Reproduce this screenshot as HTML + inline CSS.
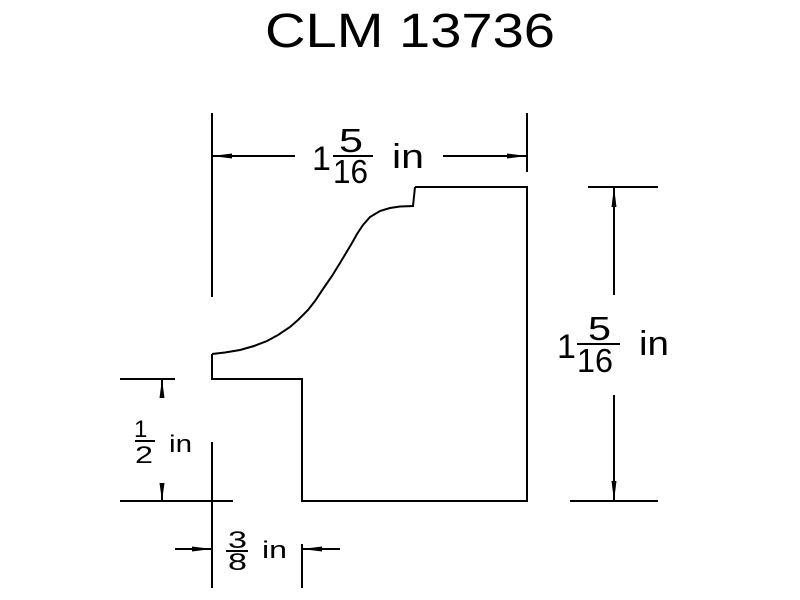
<!DOCTYPE html>
<html>
<head>
<meta charset="utf-8">
<style>
  html, body { margin: 0; padding: 0; background: #fff; }
  body { width: 800px; height: 600px; overflow: hidden; }
  svg { display: block; }
  text { font-family: "Liberation Sans", "DejaVu Sans", sans-serif; fill: #000; }
</style>
</head>
<body>
<svg width="800" height="600" viewBox="0 0 800 600" xmlns="http://www.w3.org/2000/svg">
  <rect width="800" height="600" fill="#fff"/>

  <!-- Title -->
  <text x="265" y="47" font-size="48" textLength="290" lengthAdjust="spacingAndGlyphs" fill="#111">CLM 13736</text>

  <g stroke="#000" stroke-width="2" fill="none" stroke-linecap="butt">
    <!-- Profile outline -->
    <polyline points="415,187 527,187 527,501 302,501 302,379 212,379 212,354"/>
    <polyline points="415,187 413,206 400,206.5 390,208 380,211 370,217 363,225 357,234 352,243 346,253 340,263 332,276 323,289 315,301 308,310 298,320 290,327 278,335 267,341 254,346 240,350 225,352.5 212,354"/>

    <!-- Top dimension -->
    <line x1="212" y1="113" x2="212" y2="297"/>
    <line x1="527" y1="113" x2="527" y2="172"/>
    <line x1="212" y1="156" x2="295" y2="156"/>
    <line x1="443" y1="156" x2="527" y2="156"/>

    <!-- Right dimension -->
    <line x1="588" y1="187" x2="658" y2="187"/>
    <line x1="570" y1="501" x2="658" y2="501"/>
    <line x1="614" y1="187" x2="614" y2="295"/>
    <line x1="614" y1="395" x2="614" y2="501"/>

    <!-- Left 1/2 dimension -->
    <line x1="120" y1="379" x2="175" y2="379"/>
    <line x1="120" y1="501" x2="233" y2="501"/>
    <line x1="162" y1="379" x2="162" y2="398"/>
    <line x1="162" y1="483" x2="162" y2="501"/>

    <!-- Bottom 3/8 dimension -->
    <line x1="212" y1="442" x2="212" y2="588"/>
    <line x1="302" y1="544" x2="302" y2="588"/>
    <line x1="175" y1="549" x2="212" y2="549"/>
    <line x1="302" y1="549" x2="340" y2="549"/>
  </g>

  <!-- Arrowheads -->
  <g fill="#000" stroke="none">
    <polygon points="212,156 232,153.5 232,158.5"/>
    <polygon points="527,156 507,153.5 507,158.5"/>
    <polygon points="614,187 611.5,207 616.5,207"/>
    <polygon points="614,501 611.5,481 616.5,481"/>
    <polygon points="162,379 159.5,398 164.5,398"/>
    <polygon points="162,501 159.5,483 164.5,483"/>
    <polygon points="212,549 192,546.5 192,551.5"/>
    <polygon points="302,549 322,546.5 322,551.5"/>
  </g>

  <!-- Top dim text -->
  <text x="312" y="170" font-size="34">1</text>
  <text x="339" y="152" font-size="33" textLength="24" lengthAdjust="spacingAndGlyphs">5</text>
  <line x1="333" y1="156" x2="373" y2="156" stroke="#000" stroke-width="2"/>
  <text x="333" y="183" font-size="33" textLength="35" lengthAdjust="spacingAndGlyphs">16</text>
  <text x="392" y="168" font-size="34" textLength="32" lengthAdjust="spacingAndGlyphs">in</text>

  <!-- Right dim text -->
  <text x="557" y="358" font-size="34">1</text>
  <text x="588" y="340" font-size="33" textLength="23" lengthAdjust="spacingAndGlyphs">5</text>
  <line x1="577" y1="344" x2="620" y2="344" stroke="#000" stroke-width="2"/>
  <text x="577" y="372" font-size="33" textLength="36" lengthAdjust="spacingAndGlyphs">16</text>
  <text x="639" y="355" font-size="34" textLength="30" lengthAdjust="spacingAndGlyphs">in</text>

  <!-- 1/2 text -->
  <text x="134" y="437" font-size="24">1</text>
  <line x1="135" y1="441" x2="155" y2="441" stroke="#000" stroke-width="2"/>
  <text x="135" y="463" font-size="24" textLength="18" lengthAdjust="spacingAndGlyphs">2</text>
  <text x="169" y="452" font-size="24" textLength="23" lengthAdjust="spacingAndGlyphs">in</text>

  <!-- 3/8 text -->
  <text x="228" y="548" font-size="24" textLength="19" lengthAdjust="spacingAndGlyphs">3</text>
  <line x1="226" y1="551" x2="248" y2="551" stroke="#000" stroke-width="2"/>
  <text x="228" y="570" font-size="24" textLength="19" lengthAdjust="spacingAndGlyphs">8</text>
  <text x="262" y="558" font-size="24" textLength="25" lengthAdjust="spacingAndGlyphs">in</text>
</svg>
</body>
</html>
